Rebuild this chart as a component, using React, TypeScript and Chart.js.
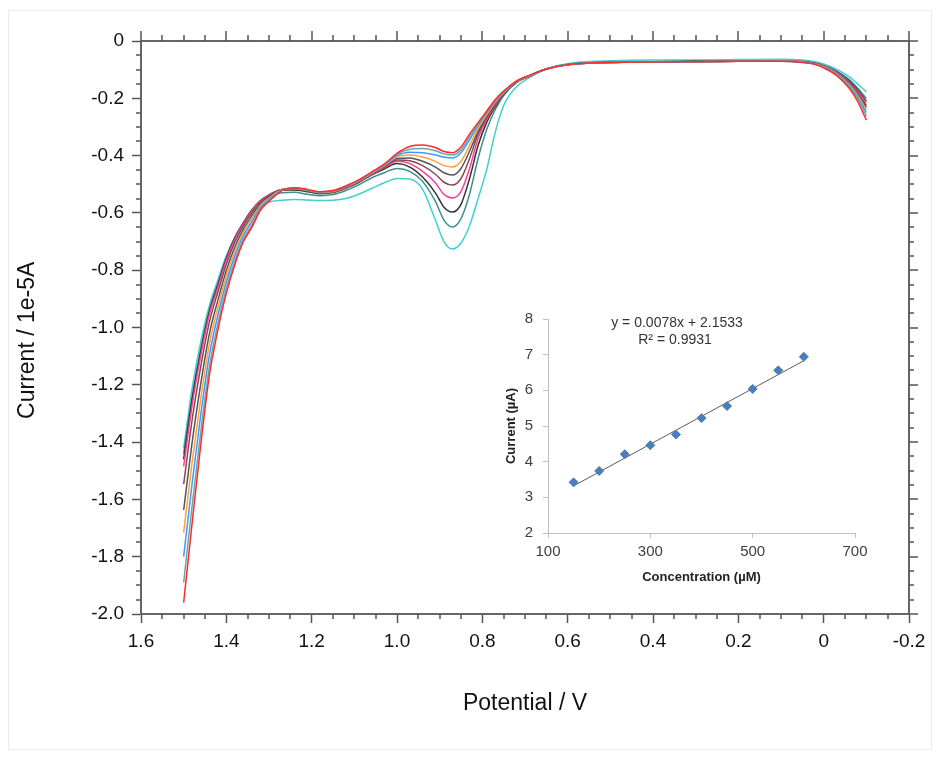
import React, { useEffect, useRef } from "react";
import { Chart, registerables } from "chart.js";

Chart.register(...registerables);

// ---------- main voltammogram data ----------
const potentials = [1.50, 1.48, 1.46, 1.44, 1.42, 1.40, 1.38, 1.36, 1.34, 1.32, 1.30, 1.27, 1.24, 1.21, 1.18, 1.15, 1.12, 1.09, 1.06, 1.03, 1.00, 0.97, 0.94, 0.91, 0.89, 0.87, 0.85, 0.83, 0.81, 0.79, 0.77, 0.75, 0.72, 0.69, 0.65, 0.60, 0.50, 0.40, 0.30, 0.20, 0.10, 0.05, 0.02, 0.00, -0.03, -0.06, -0.08, -0.10];

const currentRed = [-1.96, -1.68, -1.41, -1.17, -1.01, -0.88, -0.78, -0.70, -0.65, -0.59, -0.56,
  -0.522, -0.512, -0.518, -0.526, -0.522, -0.506, -0.485, -0.458, -0.43,
  -0.392, -0.368, -0.363, -0.372, -0.386, -0.39, -0.37, -0.325, -0.285, -0.245, -0.205, -0.175, -0.14, -0.12, -0.098, -0.083,
  -0.075, -0.073, -0.072, -0.071, -0.071, -0.075, -0.082, -0.094,
  -0.12, -0.165, -0.212, -0.276];
const currentGrayTeal = [-1.89, -1.62, -1.365, -1.139, -0.988, -0.863, -0.767, -0.691, -0.642, -0.585, -0.557,
  -0.521, -0.513, -0.519, -0.527, -0.523, -0.507, -0.487, -0.46, -0.432,
  -0.395, -0.378, -0.375, -0.383, -0.394, -0.398, -0.38, -0.335, -0.29, -0.25, -0.21, -0.177, -0.14, -0.121, -0.098, -0.083,
  -0.075, -0.073, -0.072, -0.071, -0.071, -0.074, -0.081, -0.092,
  -0.116, -0.159, -0.203, -0.262];
const currentBlue = [-1.80, -1.542, -1.305, -1.098, -0.959, -0.841, -0.75, -0.679, -0.63, -0.58, -0.553,
  -0.52, -0.514, -0.52, -0.528, -0.524, -0.508, -0.488, -0.461, -0.434,
  -0.40, -0.388, -0.39, -0.398, -0.405, -0.408, -0.39, -0.345, -0.295, -0.252, -0.212, -0.178, -0.14, -0.121, -0.098, -0.083,
  -0.075, -0.073, -0.072, -0.071, -0.071, -0.074, -0.08, -0.091,
  -0.114, -0.155, -0.196, -0.25];
const currentOrange = [-1.716, -1.468, -1.249, -1.06, -0.932, -0.82, -0.734, -0.668, -0.62, -0.574, -0.549,
  -0.519, -0.515, -0.521, -0.529, -0.525, -0.509, -0.489, -0.462, -0.436,
  -0.405, -0.398, -0.405, -0.42, -0.435, -0.44, -0.42, -0.365, -0.305, -0.258, -0.215, -0.18, -0.141, -0.122, -0.098, -0.083,
  -0.075, -0.073, -0.072, -0.071, -0.07, -0.073, -0.08, -0.09,
  -0.113, -0.152, -0.19, -0.24];
const currentDarkGray = [-1.637, -1.399, -1.197, -1.024, -0.906, -0.801, -0.719, -0.657, -0.61, -0.569, -0.545,
  -0.519, -0.516, -0.522, -0.53, -0.526, -0.51, -0.49, -0.463, -0.438,
  -0.41, -0.408, -0.42, -0.44, -0.46, -0.468, -0.445, -0.385, -0.315, -0.262, -0.218, -0.18, -0.141, -0.122, -0.098, -0.083,
  -0.075, -0.073, -0.072, -0.071, -0.07, -0.073, -0.079, -0.09,
  -0.111, -0.149, -0.186, -0.232];
const currentBrown = [-1.547, -1.321, -1.137, -0.983, -0.877, -0.779, -0.702, -0.645, -0.599, -0.563, -0.541,
  -0.518, -0.517, -0.523, -0.531, -0.527, -0.511, -0.491, -0.464, -0.44,
  -0.415, -0.418, -0.435, -0.465, -0.493, -0.503, -0.48, -0.41, -0.325, -0.268, -0.22, -0.182, -0.142, -0.122, -0.098, -0.083,
  -0.075, -0.073, -0.072, -0.071, -0.07, -0.073, -0.079, -0.089,
  -0.11, -0.146, -0.182, -0.225];
const currentPink = [-1.485, -1.27, -1.098, -0.956, -0.859, -0.764, -0.691, -0.638, -0.592, -0.559, -0.538,
  -0.518, -0.517, -0.523, -0.531, -0.527, -0.512, -0.492, -0.466, -0.443,
  -0.42, -0.428, -0.455, -0.495, -0.535, -0.548, -0.525, -0.445, -0.34, -0.275, -0.225, -0.184, -0.142, -0.123, -0.098, -0.082,
  -0.075, -0.073, -0.072, -0.071, -0.07, -0.072, -0.078, -0.088,
  -0.108, -0.143, -0.176, -0.215];
const currentBlack = [-1.46, -1.25, -1.085, -0.947, -0.852, -0.759, -0.687, -0.635, -0.59, -0.557, -0.537,
  -0.52, -0.52, -0.526, -0.533, -0.529, -0.514, -0.494, -0.468, -0.447,
  -0.428, -0.44, -0.475, -0.53, -0.58, -0.597, -0.57, -0.48, -0.365, -0.285, -0.23, -0.186, -0.143, -0.123, -0.098, -0.082,
  -0.074, -0.072, -0.071, -0.07, -0.07, -0.072, -0.078, -0.087,
  -0.107, -0.14, -0.172, -0.21];
const currentTeal = [-1.44, -1.24, -1.075, -0.94, -0.847, -0.756, -0.685, -0.634, -0.59, -0.56, -0.542,
  -0.53, -0.528, -0.535, -0.54, -0.536, -0.522, -0.502, -0.478, -0.46,
  -0.445, -0.455, -0.49, -0.56, -0.625, -0.649, -0.62, -0.535, -0.41, -0.31, -0.24, -0.19, -0.145, -0.124, -0.098, -0.082,
  -0.074, -0.072, -0.071, -0.07, -0.069, -0.071, -0.077, -0.085,
  -0.104, -0.135, -0.165, -0.20];
const currentCyan = [-1.42, -1.21, -1.05, -0.925, -0.835, -0.75, -0.685, -0.64, -0.60, -0.575, -0.562,
  -0.556, -0.553, -0.555, -0.557, -0.556, -0.55, -0.535, -0.515, -0.495,
  -0.48, -0.482, -0.518, -0.625, -0.70, -0.726, -0.705, -0.645, -0.55, -0.45, -0.32, -0.225, -0.16, -0.128, -0.097, -0.079,
  -0.069, -0.066, -0.066, -0.065, -0.064, -0.066, -0.072, -0.08,
  -0.098, -0.125, -0.15, -0.178];

const mainCurves = [currentRed, currentGrayTeal, currentBlue, currentOrange, currentDarkGray, currentBrown, currentPink, currentBlack, currentTeal, currentCyan];
const curveColors = ["#FF2A2A", "#74A5A5", "#3F9BFF", "#FFA040", "#555555", "#8B4A4A", "#FF3C9E", "#333333", "#3E8E8E", "#3FD0D0"];

const xMin = -0.2, xMax = 1.6, xStep = 0.2, xMinorStep = 0.05;
const yMin = -2.0, yMax = 0, yStep = 0.2, yMinorStep = 0.05;

// ---------- inset calibration data ----------
const concentrations = [150, 200, 250, 300, 350, 400, 450, 500, 550, 600];
const peakCurrents = [3.42, 3.74, 4.21, 4.46, 4.76, 5.22, 5.56, 6.04, 6.56, 6.94];
const trendConcentrations = [150, 600];
const trendCurrents = [3.32, 6.83];
const equationText = "y = 0.0078x + 2.1533";
const r2Text = "R\u00B2 = 0.9931";

const FONT = "'Liberation Sans', Arial, sans-serif";

const fmt = (v: number) => {
  const n = Math.round(v * 10) / 10;
  return n === 0 ? "0" : n.toFixed(1);
};

const framePlugin = {
  id: "frameMinor",
  afterDraw(chart: any) {
    const { ctx, chartArea: a, scales } = chart;
    const xs = scales.x, ys = scales.y;
    ctx.save();
    ctx.strokeStyle = "#666";
    ctx.lineWidth = 2;
    ctx.beginPath();
    ctx.moveTo(a.left - 1, a.top);
    ctx.lineTo(a.right + 1, a.top);
    ctx.moveTo(a.right, a.top);
    ctx.lineTo(a.right, a.bottom + 1);
    ctx.stroke();
    ctx.strokeStyle = "#555";
    ctx.lineWidth = 1.5;
    ctx.beginPath();
    const nx = Math.round((xMax - xMin) / xMinorStep);
    for (let k = 0; k <= nx; k++) {
      const px = Math.round(xs.getPixelForValue(xMin + k * xMinorStep));
      const major = k % 4 === 0;
      ctx.moveTo(px, a.top);
      ctx.lineTo(px, a.top - (major ? 10 : 6));
      if (!major) {
        ctx.moveTo(px, a.bottom);
        ctx.lineTo(px, a.bottom + 5);
      }
    }
    const ny = Math.round((yMax - yMin) / yMinorStep);
    for (let k = 0; k <= ny; k++) {
      const py = Math.round(ys.getPixelForValue(yMin + k * yMinorStep));
      const major = k % 4 === 0;
      ctx.moveTo(a.right, py);
      ctx.lineTo(a.right + (major ? 9 : 5), py);
      if (!major) {
        ctx.moveTo(a.left, py);
        ctx.lineTo(a.left - 5, py);
      }
    }
    ctx.stroke();
    ctx.restore();
  },
};

const equationPlugin = {
  id: "equation",
  afterDraw(chart: any) {
    const { ctx, chartArea: a } = chart;
    ctx.save();
    ctx.font = `14px ${FONT}`;
    ctx.fillStyle = "#333";
    ctx.textAlign = "center";
    ctx.textBaseline = "middle";
    ctx.fillText(equationText, a.left + 129, a.top + 4);
    ctx.fillText(r2Text, a.left + 127, a.top + 21);
    ctx.restore();
  },
};

function mainConfig(): any {
  return {
    type: "line",
    data: {
      datasets: mainCurves.map((vals, j) => ({
        data: potentials.map((x, i) => ({ x, y: vals[i] })),
        borderColor: curveColors[j],
        borderWidth: 1.5,
        pointRadius: 0,
        fill: false,
        cubicInterpolationMode: "monotone",
      })),
    },
    options: {
      animation: false,
      responsive: false,
      devicePixelRatio: 1,
      events: [],
      layout: { padding: { top: 41, right: 31, left: 0, bottom: 0 } },
      plugins: { legend: { display: false }, tooltip: { enabled: false } },
      scales: {
        x: {
          type: "linear",
          min: xMin,
          max: xMax,
          reverse: true,
          ticks: {
            stepSize: xStep,
            autoSkip: false,
            maxRotation: 0,
            padding: 7,
            color: "#111",
            font: { family: FONT, size: 19 },
            callback: (v: number) => fmt(v),
          },
          grid: { drawOnChartArea: false, tickLength: 9, tickColor: "#555", tickWidth: 1.5 },
          border: { color: "#666", width: 2 },
          title: { display: true, text: "Potential / V", color: "#111", font: { family: FONT, size: 23 }, padding: { top: 0, bottom: 41 } },
          afterFit: (s: any) => { s.height = 144; },
        },
        y: {
          type: "linear",
          min: yMin,
          max: yMax,
          ticks: {
            stepSize: yStep,
            autoSkip: false,
            padding: 8,
            color: "#111",
            font: { family: FONT, size: 19 },
            callback: (v: number) => fmt(v),
          },
          grid: { drawOnChartArea: false, tickLength: 9, tickColor: "#555", tickWidth: 1.5 },
          border: { color: "#666", width: 2 },
          title: { display: true, text: "Current / 1e-5A    ", color: "#111", font: { family: FONT, size: 23 }, padding: { top: 14, bottom: 0 } },
          afterFit: (s: any) => { s.width = 141; },
        },
      },
    },
    plugins: [framePlugin],
  };
}

function insetConfig(): any {
  return {
    type: "scatter",
    data: {
      datasets: [
        {
          data: concentrations.map((x, i) => ({ x, y: peakCurrents[i] })),
          pointStyle: "rectRot",
          pointRadius: 4.5,
          backgroundColor: "#4A7EBB",
          borderColor: "#4A7EBB",
          borderWidth: 1,
        },
        {
          data: trendConcentrations.map((x, i) => ({ x, y: trendCurrents[i] })),
          showLine: true,
          pointRadius: 0,
          borderColor: "#5A5A5A",
          borderWidth: 1,
        },
      ],
    },
    options: {
      animation: false,
      responsive: false,
      devicePixelRatio: 1,
      events: [],
      layout: { padding: { top: 18, right: 25, left: 0, bottom: 0 } },
      plugins: { legend: { display: false }, tooltip: { enabled: false } },
      scales: {
        x: {
          type: "linear",
          min: 100,
          max: 700,
          ticks: { stepSize: 200, padding: 5, color: "#404040", font: { family: FONT, size: 15 } },
          grid: { drawOnChartArea: false, tickLength: 5, tickColor: "#BFBFBF" },
          border: { color: "#BFBFBF", width: 1 },
          title: { display: true, text: "Concentration (\u00B5M)", color: "#222", font: { family: FONT, size: 13, weight: "bold" }, padding: { top: 0, bottom: 15 } },
          afterFit: (s: any) => { s.height = 67; },
        },
        y: {
          type: "linear",
          min: 2,
          max: 8,
          ticks: { stepSize: 1, padding: 10, color: "#404040", font: { family: FONT, size: 15 } },
          grid: { drawOnChartArea: false, tickLength: 5, tickColor: "#BFBFBF" },
          border: { color: "#BFBFBF", width: 1 },
          title: { display: true, text: "Current (\u00B5A)", color: "#222", font: { family: FONT, size: 13, weight: "bold" }, padding: { top: 34, bottom: 0 } },
          afterFit: (s: any) => { s.width = 78; },
        },
      },
    },
    plugins: [equationPlugin],
  };
}

export default function App() {
  const mainRef = useRef<HTMLCanvasElement>(null);
  const insetRef = useRef<HTMLCanvasElement>(null);
  useEffect(() => {
    const main = new Chart(mainRef.current as HTMLCanvasElement, mainConfig());
    const inset = new Chart(insetRef.current as HTMLCanvasElement, insetConfig());
    return () => {
      main.destroy();
      inset.destroy();
    };
  }, []);
  return (
    <div style={{ position: "absolute", left: 0, top: 0, width: 940, height: 758, background: "#fff" }}>
      <div style={{ position: "absolute", left: 8, top: 10, width: 922, height: 738, border: "1px solid #ececec" }} />
      <canvas ref={mainRef} width={940} height={758} style={{ position: "absolute", left: 0, top: 0 }} />
      <canvas ref={insetRef} width={410} height={300} style={{ position: "absolute", left: 470, top: 300 }} />
    </div>
  );
}
